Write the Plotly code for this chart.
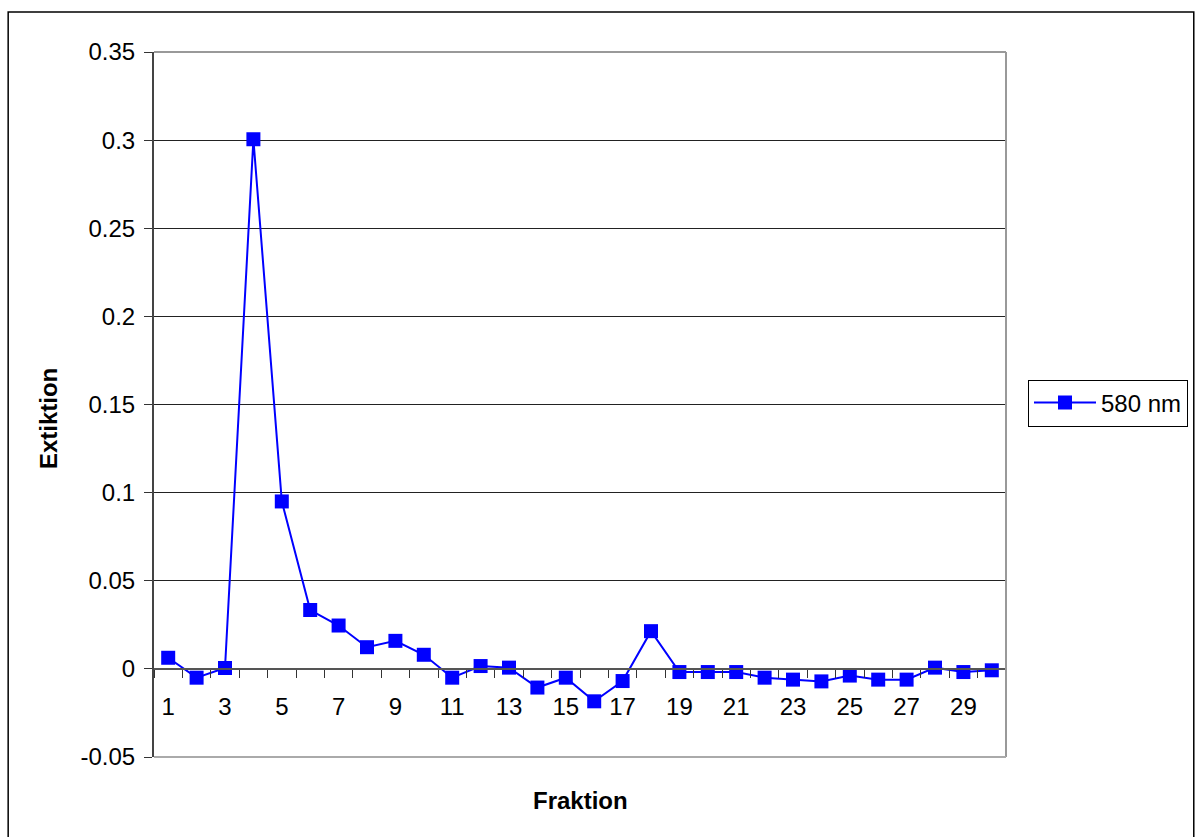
import plotly.graph_objects as go

# Fraction numbers and measured extinction at 580 nm
fraktion = list(range(1, 31))
extiktion_580 = [
    0.0063, -0.0050, 0.0005, 0.3005, 0.0950, 0.0334, 0.0246, 0.0123, 0.0159, 0.0080,
    -0.0050, 0.0016, 0.0007, -0.0106, -0.0050, -0.0184, -0.0069, 0.0214, -0.0018, -0.0018,
    -0.0018, -0.0050, -0.0061, -0.0071, -0.0038, -0.0061, -0.0061, 0.0007, -0.0018, -0.0008,
]
x_labels = [str(v) for v in range(1, 31, 2)]
y_ticks = [-0.05, 0.0, 0.05, 0.1, 0.15, 0.2, 0.25, 0.3, 0.35]
y_ticktext = ["-0.05", "0", "0.05", "0.1", "0.15", "0.2", "0.25", "0.3", "0.35"]

FONT = "Liberation Sans, Arial, sans-serif"
FS = 24
Y_MIN, Y_MAX = -0.05, 0.35
zero_pos = (0 - Y_MIN) / (Y_MAX - Y_MIN)

fig = go.Figure()
fig.add_trace(go.Scatter(
    x=fraktion, y=extiktion_580, name="580 nm",
    mode="lines+markers",
    line=dict(color="#0000FF", width=2),
    marker=dict(symbol="square", size=14, color="#0000FF"),
    xaxis="x", yaxis="y",
))
# invisible trace on the boundary-tick axis so it gets drawn
fig.add_trace(go.Scatter(x=[None], y=[None], xaxis="x2", yaxis="y",
                         showlegend=False, hoverinfo="skip"))

fig.update_layout(
    width=1199, height=837,
    margin=dict(l=154, r=192, t=52, b=80),
    paper_bgcolor="white", plot_bgcolor="white",
    font=dict(family=FONT, size=FS, color="black"),
    showlegend=True,
    legend=dict(
        x=1.0 + (1028 - 1007) / 853, xanchor="left",
        y=(757 - 403) / 705, yanchor="middle",
        bordercolor="black", borderwidth=1,
        bgcolor="white",
        font=dict(family=FONT, size=FS),
        itemwidth=62,
    ),
    xaxis=dict(
        range=[0.5, 30.5],
        tickmode="array", tickvals=list(range(1, 31, 2)), ticktext=x_labels,
        ticks="outside", ticklen=16, tickcolor="rgba(0,0,0,0)",
        showgrid=False, zeroline=False,
        showline=True, linecolor="#555555", linewidth=2,
        anchor="free", position=zero_pos,
        tickfont=dict(family=FONT, size=FS),
    ),
    xaxis2=dict(
        range=[0.5, 30.5], overlaying="x",
        tickmode="array", tickvals=[v + 0.5 for v in range(0, 31)],
        ticks="outside", ticklen=8, tickcolor="#333333", tickwidth=1,
        showticklabels=False, showgrid=False, zeroline=False, showline=False,
        anchor="free", position=zero_pos,
    ),
    yaxis=dict(
        range=[Y_MIN, Y_MAX],
        tickmode="array", tickvals=y_ticks, ticktext=y_ticktext,
        ticks="outside", ticklen=8, tickcolor="#333333",
        ticklabelstandoff=4,
        showgrid=True, gridcolor="#222222", gridwidth=1,
        zeroline=False,
        showline=True, linecolor="#444444", linewidth=2,
        tickfont=dict(family=FONT, size=FS),
    ),
)

shapes = [
    # grey plot-area frame (top, right, bottom)
    dict(type="line", xref="paper", yref="paper", x0=0, x1=1, y0=1, y1=1,
         line=dict(color="#999999", width=2)),
    dict(type="line", xref="paper", yref="paper", x0=1, x1=1, y0=0, y1=1,
         line=dict(color="#999999", width=2)),
    dict(type="line", xref="paper", yref="paper", x0=0, x1=1, y0=0, y1=0,
         line=dict(color="#aaaaaa", width=2)),
    # outer chart border
    dict(type="rect", xref="paper", yref="paper",
         x0=(8 - 154) / 853, x1=(1195 - 154) / 853,
         y0=(757 - 845) / 705, y1=(757 - 12) / 705,
         line=dict(color="black", width=1.5), fillcolor="rgba(0,0,0,0)", layer="below"),
]
fig.update_layout(shapes=shapes)

fig.add_annotation(
    text="<b>Extiktion</b>", textangle=-90,
    xref="paper", yref="paper",
    x=(48 - 154) / 853, y=(757 - 419) / 705,
    xanchor="center", yanchor="middle", showarrow=False,
    font=dict(family=FONT, size=FS, color="black"),
)
fig.add_annotation(
    text="<b>Fraktion</b>",
    xref="paper", yref="paper",
    x=0.5, y=(757 - 800) / 705,
    xanchor="center", yanchor="middle", showarrow=False,
    font=dict(family=FONT, size=FS, color="black"),
)

fig.write_html("out.html")
